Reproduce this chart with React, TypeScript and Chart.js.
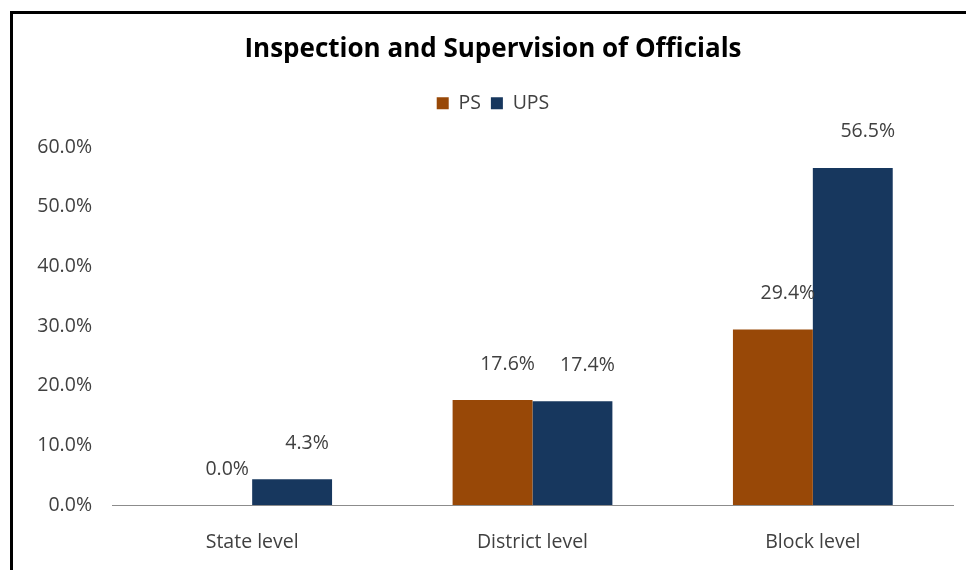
import React, { useEffect, useRef } from "react";
import { Chart, registerables, layouts } from "chart.js";

Chart.register(...registerables);

const categories = ["State level", "District level", "Block level"];
const psValues = [0.0, 17.6, 29.4];
const upsValues = [4.3, 17.4, 56.5];
const seriesNames = ["PS", "UPS"];
const titleText = "Inspection and Supervision of Officials";

const FONT = "'Open Sans', 'Liberation Sans', sans-serif";
const TEXT = "#404040";
const FS = 19.5;

const valueLabels = {
  id: "valueLabels",
  afterDatasetsDraw(chart: any) {
    const ctx = chart.ctx;
    ctx.save();
    ctx.font = `${FS}px ${FONT}`;
    ctx.fillStyle = TEXT;
    ctx.textAlign = "center";
    ctx.textBaseline = "middle";
    chart.data.datasets.forEach((ds: any, i: number) => {
      const meta = chart.getDatasetMeta(i);
      meta.data.forEach((bar: any, j: number) => {
        const v = ds.data[j] as number;
        ctx.fillText(v.toFixed(1) + "%", bar.x + 15, bar.y - 36);
      });
    });
    ctx.restore();
  },
};

// empty layout box that adds space between the legend and the plot area
const legendSpacer = {
  id: "legendSpacer",
  beforeInit(chart: any) {
    const box: any = {
      position: "top",
      weight: 0,
      fullSize: true,
      options: {},
      left: 0,
      top: 0,
      right: 0,
      bottom: 0,
      width: 0,
      height: 0,
      isHorizontal() {
        return true;
      },
      update(maxWidth: number) {
        this.width = maxWidth;
        this.height = 24;
        return { width: this.width, height: this.height };
      },
      draw() {},
    };
    layouts.addBox(chart, box);
  },
};

export default function App() {
  const ref = useRef<HTMLCanvasElement | null>(null);
  useEffect(() => {
    if (!ref.current) return;
    const chart = new Chart(ref.current, {
      type: "bar",
      data: {
        labels: categories,
        datasets: [
          {
            label: seriesNames[0],
            data: psValues,
            backgroundColor: "#984807",
            categoryPercentage: 0.57,
            barPercentage: 1,
          },
          {
            label: seriesNames[1],
            data: upsValues,
            backgroundColor: "#17375E",
            categoryPercentage: 0.57,
            barPercentage: 1,
          },
        ],
      },
      options: {
        responsive: false,
        animation: false,
        layout: { padding: { left: 20, right: 0, top: 0, bottom: 0 } },
        plugins: {
          title: {
            display: true,
            text: titleText,
            color: "#000000",
            font: { family: FONT, size: 26, weight: "bold", lineHeight: 1.2 },
            padding: { top: 34, bottom: 18 },
          },
          legend: {
            display: true,
            labels: {
              color: TEXT,
              font: { family: FONT, size: FS },
              boxWidth: 12,
              boxHeight: 12,
              padding: 10,
            },
          },
          tooltip: { enabled: false },
        },
        scales: {
          x: {
            grid: { display: false, drawTicks: false },
            border: { display: true, color: "#8c8c8c", width: 1 },
            ticks: { color: TEXT, font: { family: FONT, size: FS }, padding: 26 },
            afterFit: (s: any) => {
              s.height = 65;
              s.paddingRight = 13;
            },
          },
          y: {
            min: 0,
            max: 60,
            grid: { display: false, drawTicks: false },
            border: { display: false },
            ticks: {
              stepSize: 10,
              color: TEXT,
              font: { family: FONT, size: FS },
              padding: 20,
              callback: (v: any) => Number(v).toFixed(1) + "%",
            },
            afterFit: (s: any) => {
              s.width = 92;
              s.paddingTop = 147;
            },
          },
        },
      },
      plugins: [legendSpacer, valueLabels],
    });
    return () => chart.destroy();
  }, []);

  return (
    <div
      style={{
        position: "fixed",
        left: 0,
        top: 0,
        width: 966,
        height: 570,
        background: "#ffffff",
        overflow: "hidden",
      }}
    >
      <div style={{ position: "absolute", left: 10, top: 11, width: 956, height: 3, background: "#000" }} />
      <div style={{ position: "absolute", left: 10, top: 11, width: 3, height: 559, background: "#000" }} />
      <canvas ref={ref} width={966} height={570} style={{ position: "absolute", left: 0, top: 0 }} />
    </div>
  );
}
